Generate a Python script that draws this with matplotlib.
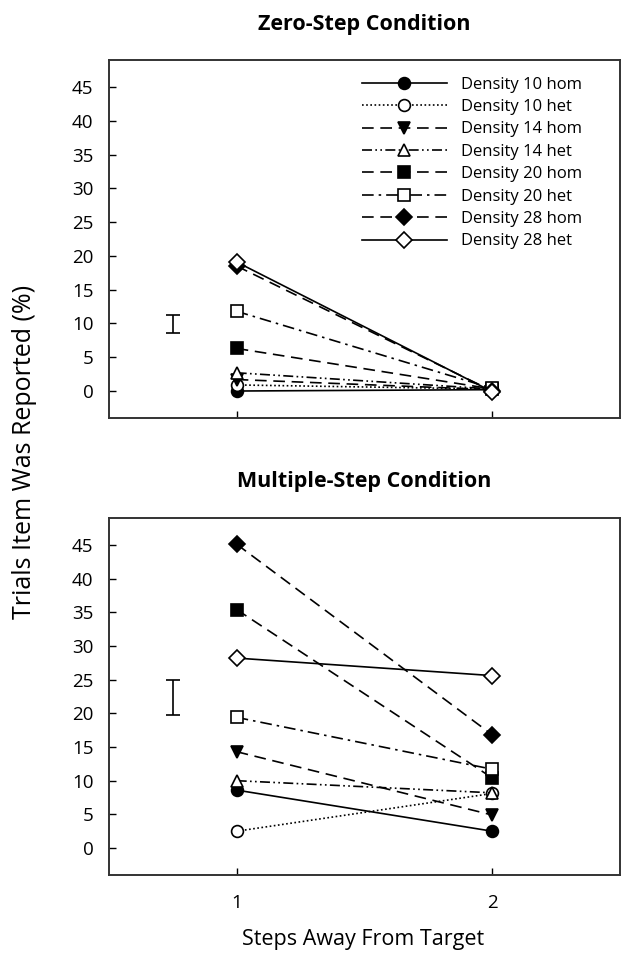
import matplotlib
matplotlib.use("Agg")
import matplotlib.pyplot as plt

plt.rcParams["font.family"] = ["Open Sans", "DejaVu Sans"]

STEPS = [1, 2]
SERIES = ["Density 10 hom", "Density 10 het", "Density 14 hom", "Density 14 het",
          "Density 20 hom", "Density 20 het", "Density 28 hom", "Density 28 het"]

# values (percent of trials)
zero_step = {
    "Density 10 hom": [0.0, 0.2],
    "Density 10 het": [0.9, 0.3],
    "Density 14 hom": [1.7, 0.2],
    "Density 14 het": [2.7, 0.3],
    "Density 20 hom": [6.3, 0.3],
    "Density 20 het": [11.8, 0.4],
    "Density 28 hom": [18.5, 0.0],
    "Density 28 het": [19.1, -0.1],
}
multi_step = {
    "Density 10 hom": [8.6, 2.5],
    "Density 10 het": [2.5, 8.1],
    "Density 14 hom": [14.3, 4.9],
    "Density 14 het": [10.0, 8.2],
    "Density 20 hom": [35.4, 10.4],
    "Density 20 het": [19.4, 11.7],
    "Density 28 hom": [45.1, 16.8],
    "Density 28 het": [28.2, 25.6],
}
# representative error bar (low, high)
zero_err = [8.6, 11.2]
multi_err = [19.8, 25.0]

STYLE = {
    "Density 10 hom": dict(ls="-", marker="o", mfc="black"),
    "Density 10 het": dict(ls=(0, (1, 1.5)), marker="o", mfc="white"),
    "Density 14 hom": dict(ls=(0, (7, 4)), marker="v", mfc="black"),
    "Density 14 het": dict(ls=(0, (6, 2, 1, 2, 1, 2)), marker="^", mfc="white"),
    "Density 20 hom": dict(ls=(0, (7, 4)), marker="s", mfc="black"),
    "Density 20 het": dict(ls=(0, (7, 3, 1.5, 3)), marker="s", mfc="white"),
    "Density 28 hom": dict(ls=(0, (7, 4)), marker="D", mfc="black"),
    "Density 28 het": dict(ls="-", marker="D", mfc="white"),
}
MSIZE = {"o": 8.5, "v": 8.5, "^": 8.5, "s": 8, "D": 7.8}


def draw_panel(ax, data, err, title, show_legend=False, show_xlabels=False):
    for name in SERIES:
        st = STYLE[name]
        ax.plot(STEPS, data[name], color="black", lw=1.2, linestyle=st["ls"],
                marker=st["marker"], markersize=MSIZE[st["marker"]],
                markerfacecolor=st["mfc"], markeredgecolor="black",
                markeredgewidth=1.2, label=name)
    mid = (err[0] + err[1]) / 2
    ax.errorbar([0.75], [mid], yerr=[[mid - err[0]], [err[1] - mid]], fmt="none",
                ecolor="black", elinewidth=1.2, capsize=5, capthick=1.2)
    ax.set_xlim(0.5, 2.5)
    ax.set_ylim(-4, 49)
    ax.set_yticks(range(0, 50, 5))
    ax.set_xticks(STEPS)
    if not show_xlabels:
        ax.set_xticklabels([])
    ax.tick_params(direction="in", length=5, width=1, labelsize=13.5, pad=11)
    for s in ax.spines.values():
        s.set_linewidth(1.4)
        s.set_color("#333333")
    ax.set_title(title, fontsize=15.5, fontweight="bold", pad=22)
    if show_legend:
        ax.legend(loc="upper right", frameon=False, fontsize=12, handlelength=5.1,
                  handletextpad=0.85, labelspacing=0.385, borderaxespad=0,
                  bbox_to_anchor=(0.939, 0.9725))


fig = plt.figure(figsize=(6.22, 9.61), dpi=100)
ax_top = fig.add_axes([0.175, 0.565, 0.822, 0.3725])
ax_bot = fig.add_axes([0.175, 0.0895, 0.822, 0.3715])

draw_panel(ax_top, zero_step, zero_err, "Zero-Step Condition", show_legend=True)
draw_panel(ax_bot, multi_step, multi_err, "Multiple-Step Condition", show_xlabels=True)
ax_bot.tick_params(axis="x", pad=14)

fig.text(0.584, 0.022, "Steps Away From Target", ha="center", va="center", fontsize=15.5)
fig.text(0.040, 0.530, "Trials Item Was Reported (%)", rotation=90, va="center",
         ha="center", fontsize=18)

fig.savefig("out.png", dpi=100)
